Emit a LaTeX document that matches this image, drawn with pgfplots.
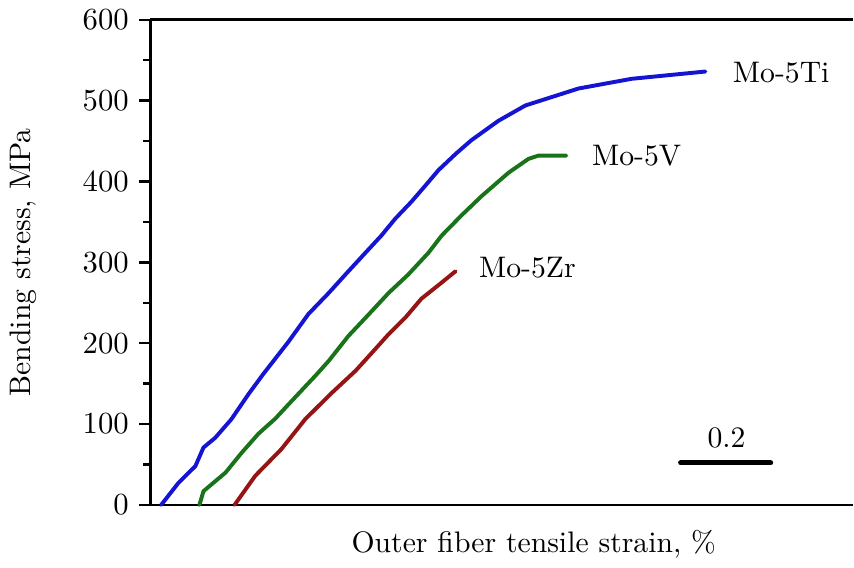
\documentclass[border=0pt]{standalone}
\usepackage{pgfplots}
\pgfplotsset{compat=1.18}
\definecolor{cblue}{RGB}{20,20,210}
\definecolor{cgreen}{RGB}{25,115,25}
\definecolor{cred}{RGB}{150,20,20}
\begin{document}
\fontsize{10.6}{12.7}\selectfont
\begin{tikzpicture}[font=\fontsize{10.6}{12.7}\selectfont]
\begin{axis}[
  scale only axis,
  width=250.7pt, height=173.2pt,
  xmin=0, xmax=1.56, ymin=0, ymax=600,
  axis x line*=box, axis y line*=left,
  axis line style={line width=1pt, -},
  xtick=\empty,
  ytick={0,100,...,600},
  minor y tick num=1,
  tick align=outside,
  major tick length=4pt, minor tick length=2.5pt,
  tick style={line width=0.9pt, black},
  ylabel={Bending stress, MPa},
  xlabel={Outer fiber tensile strain, \%},
  every axis y label/.style={at={(axis description cs:-0.181,0.5)}, rotate=90, anchor=center},
  every axis x label/.style={at={(axis description cs:0.546,-0.0805)}, anchor=center},
  clip=false,
]
\addplot[cblue, line width=1.4pt, line cap=round, line join=round] coordinates {
(0.024,0) (0.062,27) (0.100,48) (0.118,71) (0.144,83) (0.180,106) (0.218,137)
(0.251,162) (0.307,202) (0.351,236) (0.396,262) (0.440,289)
(0.478,312) (0.513,333) (0.544,354) (0.580,375) (0.611,395) (0.640,414)
(0.678,434) (0.713,451) (0.773,475) (0.833,494) (0.951,515) (1.069,527) (1.233,536)};
\addplot[cgreen, line width=1.4pt, line cap=round, line join=round] coordinates {
(0.109,0) (0.118,17) (0.167,40) (0.202,64) (0.240,88) (0.278,107) (0.313,128)
(0.367,160) (0.396,178) (0.440,209) (0.484,235) (0.529,262)
(0.573,285) (0.618,312) (0.647,333) (0.691,358) (0.736,382) (0.796,411)
(0.840,428) (0.862,432) (0.924,432)};
\addplot[cred, line width=1.4pt, line cap=round, line join=round] coordinates {
(0.187,0) (0.233,36) (0.291,69) (0.344,106) (0.400,137) (0.456,166)
(0.500,193) (0.529,211) (0.567,232) (0.602,255) (0.647,275) (0.678,289)};
\addplot[black, line width=1.8pt, line cap=round] coordinates {(1.178,52) (1.378,52)};
\node[anchor=west] at (axis cs:1.271,534) {Mo-5Ti};
\node[anchor=west] at (axis cs:0.958,432) {Mo-5V};
\node[anchor=west] at (axis cs:0.707,293) {Mo-5Zr};
\node at (axis cs:1.28,83) {0.2};
\end{axis}
\end{tikzpicture}
\end{document}
